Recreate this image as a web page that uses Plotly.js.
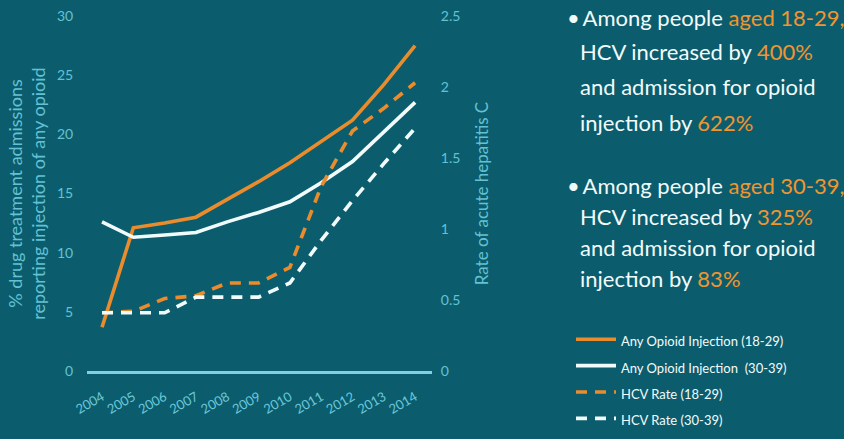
<!DOCTYPE html>
<html>
<head>
<meta charset="utf-8">
<script src="https://cdn.plot.ly/plotly-3.0.1.min.js"></script>
<style>html,body{margin:0;padding:0;background:#0b5d6e;}#chart{width:844px;height:439px;}</style>
</head>
<body>
<div id="chart"></div>
<script>
const years = [2004, 2005, 2006, 2007, 2008, 2009, 2010, 2011, 2012, 2013, 2014];
const opioid1829 = [3.7, 12.1, 12.5, 13.0, 14.5, 16.0, 17.6, 19.4, 21.2, 24.2, 27.5];
const opioid3039 = [12.6, 11.3, 11.5, 11.7, 12.6, 13.4, 14.3, 15.9, 17.7, 20.2, 22.7];
const hcv1829 = [0.41, 0.42, 0.51, 0.53, 0.62, 0.62, 0.73, 1.3, 1.69, 1.85, 2.03];
const hcv3039 = [0.41, 0.41, 0.41, 0.52, 0.52, 0.52, 0.62, 0.92, 1.2, 1.46, 1.71];
const seriesNames = ['Any Opioid Injection (18-29)', 'Any Opioid Injection  (30-39)', 'HCV Rate (18-29)', 'HCV Rate (30-39)'];
const leftTicks = [0, 5, 10, 15, 20, 25, 30];
const rightTicks = [0, 0.5, 1, 1.5, 2, 2.5];

const ORANGE = '#ea8c2c';
const WHITE = '#f2fbfb';
const CYAN = '#62c2d4';
const FONT = 'Lato, "Open Sans", sans-serif';

const small = s => '<span style="font-size:13px">' + s + '</span>';
const traces = [
  {x: years, y: opioid1829, name: small(seriesNames[0]), yaxis: 'y', mode: 'lines', line: {color: ORANGE, width: 3.6}},
  {x: years, y: opioid3039, name: small(seriesNames[1]), yaxis: 'y', mode: 'lines', line: {color: WHITE, width: 3.6}},
  {x: years, y: hcv1829, name: small(seriesNames[2]), yaxis: 'y2', mode: 'lines', line: {color: ORANGE, width: 3.6, dash: '11px,8px'}},
  {x: years, y: hcv3039, name: small(seriesNames[3]), yaxis: 'y2', mode: 'lines', line: {color: WHITE, width: 3.6, dash: '11px,8px'}}
];

const O = c => '<span style="color:#f0952f">' + c + '</span>';
const B = '•<span style="font-size:11px"> </span>';
const textLines = [
  B + 'Among people ' + O('aged 18-29,'),
  'HCV increased by ' + O('400%'),
  'and admission for opioid',
  'injection by ' + O('622%'),
  B + 'Among people ' + O('aged 30-39,'),
  'HCV increased by ' + O('325%'),
  'and admission for opioid',
  'injection by ' + O('83%')
];
const textY = [18, 52, 87, 122, 185, 216, 247, 278];
const PL = 87, PW = 345, PT = 16, PH = 355;
const annotations = textLines.map((t, i) => ({
  xref: 'paper', yref: 'paper', x: ((i % 4 === 0 ? 565 : 578) - PL) / PW,
  y: 1 - (textY[i] - PT) / PH, xanchor: 'left', yanchor: 'middle', showarrow: false,
  text: t, font: {family: FONT, size: 22, color: '#f2fbfb'}
}));

const layout = {
  width: 844, height: 439,
  paper_bgcolor: '#0b5d6e', plot_bgcolor: '#0b5d6e',
  margin: {l: PL, r: 844 - PL - PW, t: PT, b: 439 - PT - PH, autoexpand: false},
  showlegend: true,
  legend: {x: (571 - PL) / PW, xanchor: 'left', y: (371 - 321) / PH, yanchor: 'top', bgcolor: 'rgba(0,0,0,0)',
           font: {family: FONT, size: 18, color: '#f2fbfb'}, itemwidth: 40, tracegroupgap: 0},
  xaxis: {range: [2003.52, 2014.54], tickvals: years, ticktext: years.map(String), tickangle: -30,
          showgrid: false, zeroline: false, showline: true, linecolor: '#7fd0e0', linewidth: 2.5,
          ticks: 'outside', ticklen: 11, tickcolor: 'rgba(0,0,0,0)',
          tickfont: {family: FONT, size: 13, color: '#6cc8da'}, fixedrange: true},
  yaxis: {range: [0, 30], tickvals: leftTicks, showgrid: false, zeroline: false, showline: false,
          ticks: 'outside', ticklen: 10, tickcolor: 'rgba(0,0,0,0)',
          tickfont: {family: FONT, size: 14, color: CYAN},
          title: {text: '% drug treatment admissions<br>reporting injection of any opioid', standoff: 6,
                  font: {family: FONT, size: 18, color: CYAN}}},
  yaxis2: {range: [0, 2.5], tickvals: rightTicks, overlaying: 'y', side: 'right', showgrid: false,
           zeroline: false, showline: false, ticks: 'outside', ticklen: 5, tickcolor: 'rgba(0,0,0,0)',
           tickfont: {family: FONT, size: 14, color: CYAN},
           title: {text: 'Rate of acute hepatitis C', standoff: 16, font: {family: FONT, size: 17, color: CYAN}}},
  annotations: annotations
};
Plotly.newPlot('chart', traces, layout, {displayModeBar: false, staticPlot: true});
</script>
</body>
</html>
